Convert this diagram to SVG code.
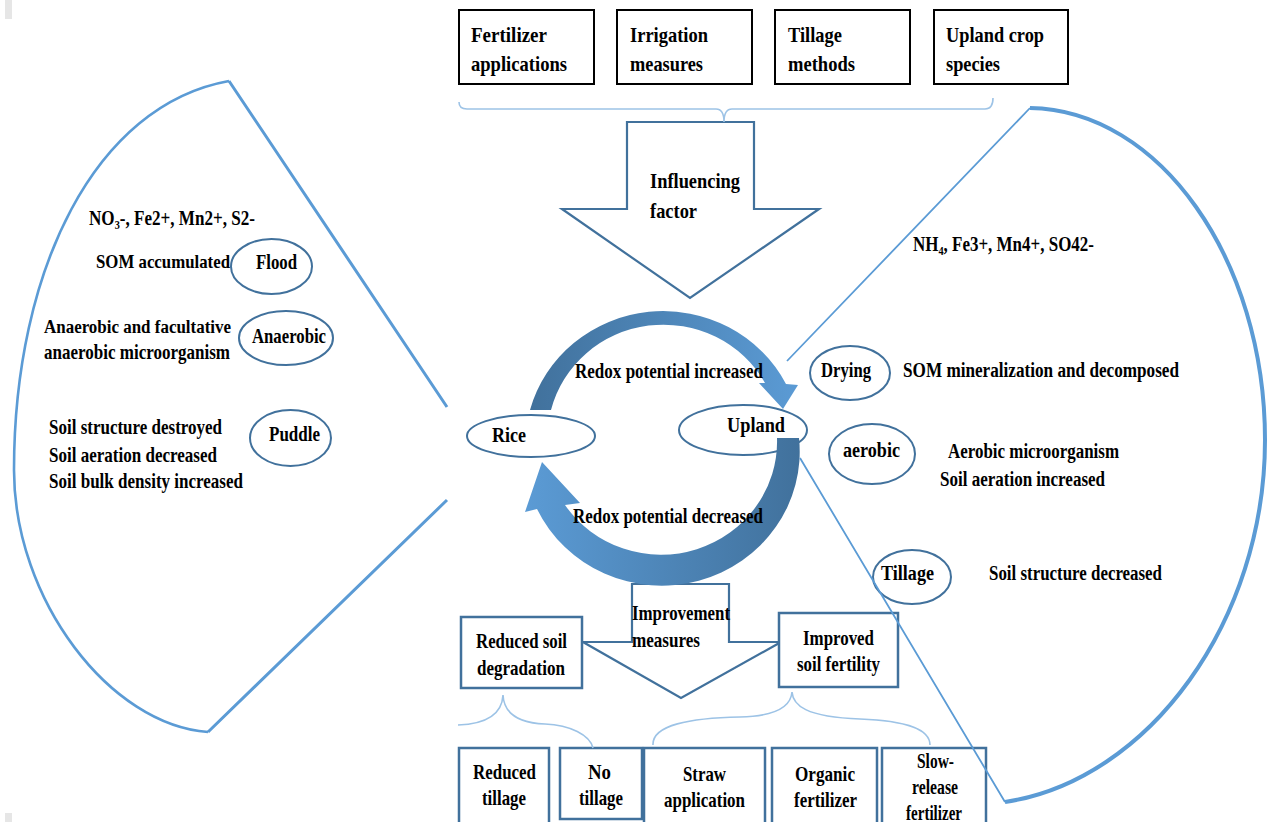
<svg xmlns="http://www.w3.org/2000/svg" width="1270" height="822" viewBox="0 0 1270 822">
<style>
.t{font-family:"Liberation Serif","Times New Roman",serif;font-weight:bold;font-size:21.5px;fill:#000}
.r{font-size:20px}
.kbox{fill:#fff;stroke:#000;stroke-width:2}
.bbox{fill:#fff;stroke:#41719c;stroke-width:2.5}
.ell{fill:#fff;stroke:#41719c;stroke-width:2}
.brace{fill:none;stroke:#9dc3e6;stroke-width:1.6}
.big{fill:none;stroke:#5b9bd5}
.barrow{fill:#fff;stroke:#41719c;stroke-width:2.2}
</style>
<defs>
<linearGradient id="gTop" gradientUnits="userSpaceOnUse" x1="530" y1="0" x2="800" y2="0">
<stop offset="0" stop-color="#41719c"/><stop offset="1" stop-color="#5b9bd5"/>
</linearGradient>
<linearGradient id="gBot" gradientUnits="userSpaceOnUse" x1="800" y1="0" x2="525" y2="0">
<stop offset="0" stop-color="#41719c"/><stop offset="1" stop-color="#5b9bd5"/>
</linearGradient>
</defs>
<rect width="1270" height="822" fill="#fff"/>
<rect x="5" y="0" width="7" height="19" fill="#e6e6e6"/>
<rect x="5" y="813" width="7" height="9" fill="#e6e6e6"/>

<!-- top factor boxes -->
<g id="fertilizer"><rect class="kbox" x="459" y="10" width="135" height="74"/>
<text class="t" x="471" y="42" textLength="76" lengthAdjust="spacingAndGlyphs">Fertilizer</text>
<text class="t" x="471" y="71" textLength="96" lengthAdjust="spacingAndGlyphs">applications</text></g>
<g id="irrigation"><rect class="kbox" x="617" y="10" width="135" height="74"/>
<text class="t" x="630" y="42" textLength="78" lengthAdjust="spacingAndGlyphs">Irrigation</text>
<text class="t" x="630" y="71" textLength="73" lengthAdjust="spacingAndGlyphs">measures</text></g>
<g id="tillage-methods"><rect class="kbox" x="775" y="10" width="135" height="74"/>
<text class="t" x="788" y="42" textLength="54" lengthAdjust="spacingAndGlyphs">Tillage</text>
<text class="t" x="788" y="71" textLength="67" lengthAdjust="spacingAndGlyphs">methods</text></g>
<g id="upland-crop"><rect class="kbox" x="934" y="10" width="134" height="74"/>
<text class="t" x="946" y="42" textLength="98" lengthAdjust="spacingAndGlyphs">Upland crop</text>
<text class="t" x="946" y="71" textLength="54" lengthAdjust="spacingAndGlyphs">species</text></g>

<!-- influencing factor arrow -->
<g id="influencing-factor">
<polygon class="barrow" points="627,122 754,122 754,209 819,209 690,298 562,209 627,209"/>
<text class="t" x="650" y="188" textLength="90" lengthAdjust="spacingAndGlyphs">Influencing</text>
<text class="t" x="650" y="218" textLength="47" lengthAdjust="spacingAndGlyphs">factor</text>
</g>

<!-- improvement measures arrow -->
<g id="improvement-measures">
<polygon class="barrow" points="632,584 729,584 729,642 781,642 681,698 583,642 632,642"/>
<text class="t" x="632" y="620" textLength="98" lengthAdjust="spacingAndGlyphs">Improvement</text>
<text class="t" x="632" y="647" textLength="68" lengthAdjust="spacingAndGlyphs">measures</text>
</g>

<g id="reduced-soil-degradation"><rect class="bbox" x="461" y="617" width="121" height="71"/>
<text class="t" x="476" y="648" textLength="91" lengthAdjust="spacingAndGlyphs">Reduced soil</text>
<text class="t" x="477" y="675" textLength="88" lengthAdjust="spacingAndGlyphs">degradation</text></g>
<g id="improved-soil-fertility"><rect class="bbox" x="779" y="613" width="119" height="74"/>
<text class="t" x="803" y="645" textLength="71" lengthAdjust="spacingAndGlyphs">Improved</text>
<text class="t" x="797" y="671" textLength="83" lengthAdjust="spacingAndGlyphs">soil fertility</text></g>

<g id="reduced-tillage"><rect class="bbox" x="459" y="748" width="90" height="90"/>
<text class="t" x="473" y="779" textLength="63" lengthAdjust="spacingAndGlyphs">Reduced</text>
<text class="t" x="482" y="805" textLength="44" lengthAdjust="spacingAndGlyphs">tillage</text></g>
<g id="no-tillage"><rect class="bbox" x="560" y="748" width="82" height="71"/>
<text class="t" x="588" y="779" textLength="23" lengthAdjust="spacingAndGlyphs">No</text>
<text class="t" x="579" y="805" textLength="44" lengthAdjust="spacingAndGlyphs">tillage</text></g>
<g id="straw-application"><rect class="bbox" x="644" y="748" width="121" height="90"/>
<text class="t" x="683" y="781" textLength="43" lengthAdjust="spacingAndGlyphs">Straw</text>
<text class="t" x="664" y="807" textLength="81" lengthAdjust="spacingAndGlyphs">application</text></g>
<g id="organic-fertilizer"><rect class="bbox" x="772" y="748" width="105" height="90"/>
<text class="t" x="795" y="781" textLength="60" lengthAdjust="spacingAndGlyphs">Organic</text>
<text class="t" x="794" y="807" textLength="63" lengthAdjust="spacingAndGlyphs">fertilizer</text></g>
<g id="slow-release-fertilizer"><rect class="bbox" x="882" y="748" width="104" height="90"/>
<text class="t r" x="917" y="768" textLength="37" lengthAdjust="spacingAndGlyphs">Slow-</text>
<text class="t r" x="912" y="794" textLength="46" lengthAdjust="spacingAndGlyphs">release</text>
<text class="t r" x="906" y="820" textLength="56" lengthAdjust="spacingAndGlyphs">fertilizer</text></g>

<!-- state ellipses -->
<g id="rice"><ellipse class="ell" cx="531" cy="436" rx="64" ry="21"/>
<text class="t" x="492" y="442" textLength="34" lengthAdjust="spacingAndGlyphs">Rice</text></g>
<g id="upland"><ellipse class="ell" cx="743" cy="430" rx="64" ry="25"/></g>

<g id="flood"><ellipse class="ell" cx="271.5" cy="266.5" rx="40.5" ry="27.5"/>
<text class="t" x="256" y="269" textLength="41" lengthAdjust="spacingAndGlyphs">Flood</text></g>
<g id="anaerobic"><ellipse class="ell" cx="286" cy="338" rx="47" ry="27"/>
<text class="t" x="252" y="343" textLength="74" lengthAdjust="spacingAndGlyphs">Anaerobic</text></g>
<g id="puddle"><ellipse class="ell" cx="290.5" cy="438" rx="40.5" ry="28"/>
<text class="t" x="269" y="441" textLength="51" lengthAdjust="spacingAndGlyphs">Puddle</text></g>
<g id="drying"><ellipse class="ell" cx="850" cy="373" rx="40" ry="27"/>
<text class="t r" x="821" y="377" textLength="50" lengthAdjust="spacingAndGlyphs">Drying</text></g>
<g id="aerobic"><ellipse class="ell" cx="872" cy="454" rx="43" ry="30"/>
<text class="t r" x="843" y="457" textLength="57" lengthAdjust="spacingAndGlyphs">aerobic</text></g>
<g id="tillage"><ellipse class="ell" cx="912" cy="577" rx="39" ry="27"/>
<text class="t r" x="881" y="580" textLength="53" lengthAdjust="spacingAndGlyphs">Tillage</text></g>

<!-- connectors -->
<g id="connectors">
<path class="brace" d="M459,102 Q459,109 467,109 L716,109 Q724,109 724,122 Q724,109 732,109 L985,109 Q993,109 993,98"/>
<path class="brace" d="M458,725 C485,724 502,715 503,695 C504,715 520,723 545,724 C570,725 590,735 593,748"/>
<path class="brace" d="M653,745 C652,725 690,718 740,717 C780,716 791,705 792,692 C793,705 805,717 860,719 C910,721 930,730 930,745"/>
<path d="M530,410 A138,134 0 0 1 786,384 L798,385 L783,409 L759,383 L765,383 A116,113 0 0 0 551,410 Z" fill="url(#gTop)"/>
<path d="M777,438 L799,438 A138,134 0 0 1 537,509 L525,512 L542,462 L580,503 L565,505 A116,113 0 0 0 777,438 Z" fill="url(#gBot)"/>
<path class="big" stroke-width="2.6" d="M229,81 C95,105 14,270 14,470 C14,600 110,725 208,732"/>
<path class="big" stroke-width="3" d="M229,81 L447,407 M208,732 L447,500"/>
<path class="big" stroke-width="1.8" d="M787,361 L1030,108 M1005,802 L800,458"/>
<path class="big" stroke-width="4" d="M1030,108 C1160,110 1265,260 1265,440 C1265,620 1150,780 1005,802"/>
</g>

<text class="t" x="727" y="432" textLength="58" lengthAdjust="spacingAndGlyphs">Upland</text>
<text class="t" x="575" y="378" textLength="188" lengthAdjust="spacingAndGlyphs">Redox potential increased</text>
<text class="t" x="573" y="523" textLength="190" lengthAdjust="spacingAndGlyphs">Redox potential decreased</text>

<!-- left panel texts -->
<text class="t" x="89" y="225" textLength="166" lengthAdjust="spacingAndGlyphs">NO₃-, Fe2+, Mn2+, S2-</text>
<text class="t" style="font-size:19px" x="96" y="268" textLength="134" lengthAdjust="spacingAndGlyphs">SOM accumulated</text>
<text class="t" style="font-size:18.5px" x="44" y="333" textLength="187" lengthAdjust="spacingAndGlyphs">Anaerobic and facultative</text>
<text class="t" x="44" y="359" textLength="186" lengthAdjust="spacingAndGlyphs">anaerobic microorganism</text>
<text class="t" x="49" y="434" textLength="173" lengthAdjust="spacingAndGlyphs">Soil structure destroyed</text>
<text class="t" x="49" y="462" textLength="168" lengthAdjust="spacingAndGlyphs">Soil aeration decreased</text>
<text class="t" x="49" y="488" textLength="194" lengthAdjust="spacingAndGlyphs">Soil bulk density increased</text>

<!-- right panel texts -->
<text class="t r" x="913" y="251" textLength="181" lengthAdjust="spacingAndGlyphs">NH₄, Fe3+, Mn4+, SO42-</text>
<text class="t r" x="903" y="377" textLength="276" lengthAdjust="spacingAndGlyphs">SOM  mineralization and decomposed</text>
<text class="t r" x="948" y="458" textLength="171" lengthAdjust="spacingAndGlyphs">Aerobic microorganism</text>
<text class="t r" x="940" y="486" textLength="165" lengthAdjust="spacingAndGlyphs">Soil aeration increased</text>
<text class="t r" x="989" y="580" textLength="173" lengthAdjust="spacingAndGlyphs">Soil structure decreased</text>
</svg>
